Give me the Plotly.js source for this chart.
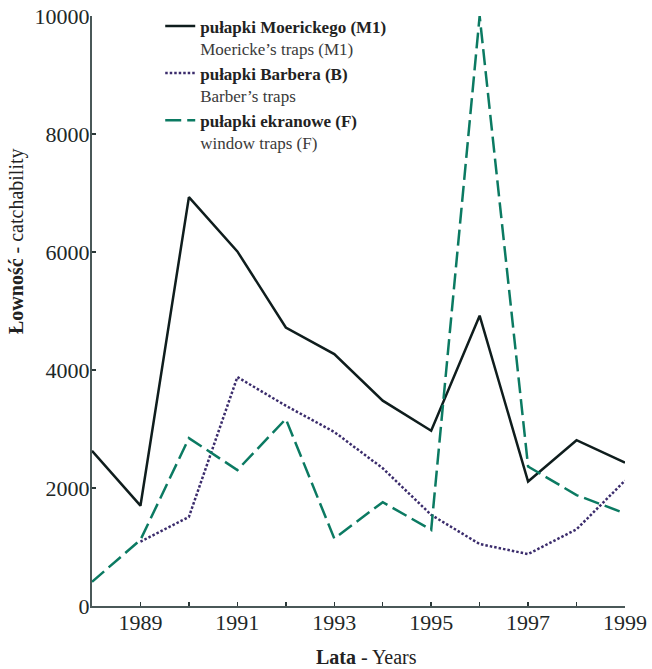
<!DOCTYPE html>
<html>
<head>
<meta charset="utf-8">
<script src="https://cdn.plot.ly/plotly-3.0.1.min.js"></script>
<style>html,body{margin:0;padding:0;background:#fff;}#chart{width:652px;height:669px;}</style>
</head>
<body>
<div id="chart"></div>
<script>
// Years
const years = [1988,1989,1990,1991,1992,1993,1994,1995,1996,1997,1998,1999];
const yearsB = [1989,1990,1991,1992,1993,1994,1995,1996,1997,1998,1999];
// Series values (catchability)
const moericke = [2630,1700,6930,6010,4720,4270,3480,2970,4920,2110,2810,2430];
const barber   = [1090,1510,3880,3395,2950,2335,1545,1050,880,1300,2125];
const window_  = [410,1120,2845,2305,3170,1145,1760,1290,10000,2365,1880,1570];
// Tick labels
const xTickVals = years;
const xTickText = ['', '1989', '', '1991', '', '1993', '', '1995', '', '1997', '', '1999'];
const yTickVals = [0,2000,4000,6000,8000,10000];
const yTickText = ['0','2000','4000','6000','8000','10000'];
// Legend texts
const nameM = ['pułapki Moerickego (M1)', 'Moericke’s traps (M1)'];
const nameB = ['pułapki Barbera (B)', 'Barber’s traps'];
const nameF = ['pułapki ekranowe (F)', 'window traps (F)'];

function legendName(pair){
  return '<b>' + pair[0] + '</b><br><span style="color:#3a3a3a">' + pair[1] + '</span>';
}

const traces = [
  {x: years, y: moericke, type:'scatter', mode:'lines', name: legendName(nameM),
   line:{color:'#0f1d1d', width:2.5}},
  {x: yearsB, y: barber, type:'scatter', mode:'lines', name: legendName(nameB),
   line:{color:'#3b2c6c', width:2.5, dash:'2.5px,2px'}},
  {x: years, y: window_, type:'scatter', mode:'lines', name: legendName(nameF),
   line:{color:'#0b7a62', width:2.5, dash:'16px,6px'}}
];

const font = 'Liberation Serif, Times New Roman, serif';
const tickStyle = {tickcolor:'#2a3838', tickwidth:1.5, ticklen:4};
const layout = {
  width: 652, height: 669,
  margin: {l:92, r:27, t:16, b:63, autoexpand:false},
  paper_bgcolor:'#fff', plot_bgcolor:'#fff',
  font: {family: font, color:'#1e2828', size:20},
  showlegend: true,
  legend: {x:0.128, y:1.013, xanchor:'left', yanchor:'top', valign:'top',
           font:{family:font, size:17, color:'#222'}, bgcolor:'rgba(0,0,0,0)',
           tracegroupgap:0},
  xaxis: Object.assign({range:[1988,1999], tickmode:'array', tickvals:xTickVals, ticktext:xTickText,
          showgrid:false, zeroline:false, showline:true, linecolor:'#4a5858', linewidth:2,
          ticks:'inside', ticklabelstandoff:-4, tickfont:{family:font, size:22, color:'#1e2828'}}, tickStyle),
  yaxis: Object.assign({range:[0,10000], tickmode:'array', tickvals:yTickVals, ticktext:yTickText,
          showgrid:false, zeroline:false, showline:true, linecolor:'#4a5858', linewidth:2,
          ticks:'inside', ticklabelstandoff:-4, tickfont:{family:font, size:22, color:'#1e2828'}}, tickStyle),
  xaxis2: Object.assign({overlaying:'x', matches:'x', anchor:'y', side:'bottom', range:[1988,1999],
          tickmode:'array', tickvals:xTickVals, showticklabels:false, showgrid:false, zeroline:false,
          showline:false, ticks:'outside'}, tickStyle),
  yaxis2: Object.assign({overlaying:'y', matches:'y', anchor:'x', side:'left', range:[0,10000],
          tickmode:'array', tickvals:yTickVals, showticklabels:false, showgrid:false, zeroline:false,
          showline:false, ticks:'outside'}, tickStyle),
  annotations: [
    {xref:'paper', yref:'paper', x:(366-92)/533, y:-(657-606)/590, xanchor:'center', yanchor:'middle',
     text:'<b>Lata</b> - Years', showarrow:false, font:{family:font, size:20, color:'#222'}},
    {xref:'paper', yref:'paper', x:-(92-16)/533, y:(606-241)/590, xanchor:'center', yanchor:'middle',
     text:'<b>Łowność</b> - catchability', textangle:-90, showarrow:false, font:{family:font, size:20, color:'#222'}}
  ]
};

Plotly.newPlot('chart', traces, layout, {staticPlot:true, displayModeBar:false});
</script>
</body>
</html>
